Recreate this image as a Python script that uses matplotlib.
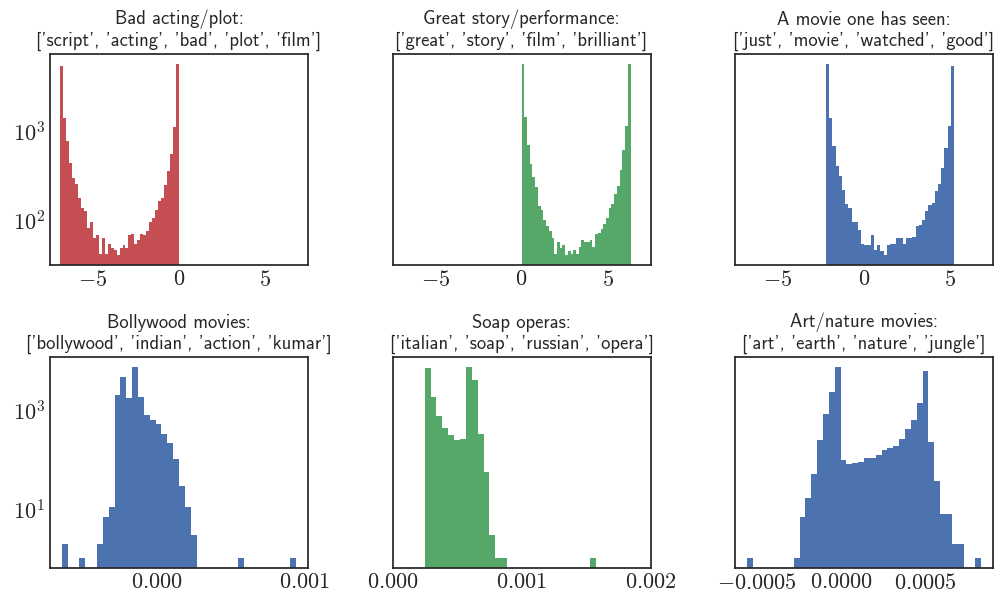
import numpy as np
import matplotlib
matplotlib.use("Agg")
import matplotlib.pyplot as plt

plt.rcParams['font.family'] = 'cmr10'
plt.rcParams['mathtext.fontset'] = 'cm'
plt.rcParams['axes.formatter.use_mathtext'] = True
plt.rcParams['axes.edgecolor'] = '.15'
plt.rcParams['axes.linewidth'] = 1.25
plt.rcParams['xtick.major.size'] = 0
plt.rcParams['ytick.major.size'] = 0
plt.rcParams['xtick.minor.size'] = 0
plt.rcParams['ytick.minor.size'] = 0

red = '#C44E52'
green = '#55A868'
blue = '#4C72B0'

titles = [
    "Bad acting/plot:\n['script', 'acting', 'bad', 'plot', 'film']",
    "Great story/performance:\n['great', 'story', 'film', 'brilliant']",
    "A movie one has seen:\n['just', 'movie', 'watched', 'good']",
    "Bollywood movies:\n['bollywood', 'indian', 'action', 'kumar']",
    "Soap operas:\n['italian', 'soap', 'russian', 'opera']",
    "Art/nature movies:\n['art', 'earth', 'nature', 'jungle']",
]
colors = [red, green, blue, blue, green, blue]

# bin ranges (first edge, last edge)
ranges = [
    (-6.92, 0.0),
    (0.0, 6.34),
    (-2.21, 5.23),
    (-0.000642, 0.000946),
    (0.000249, 0.001574),
    (-0.00056, 0.000833),
]

# counts per bin
bad_plot = [5380, 1400, 765, 435, 300, 252, 175, 135, 126, 82,
            94, 63, 67, 42, 63, 42, 54, 48, 46, 40,
            48, 52, 48, 67, 70, 54, 59, 70, 67, 76,
            96, 104, 131, 163, 175, 245, 353, 550, 1110, 5710]
great_story = [5710, 1440, 695, 424, 302, 233, 142, 131, 99, 85,
               76, 62, 41, 57, 49, 53, 40, 45, 42, 46,
               41, 50, 59, 56, 57, 59, 50, 70, 72, 80,
               91, 104, 138, 150, 194, 239, 362, 610, 1140, 5710]
movie_seen = [5710, 1400, 678, 403, 310, 215, 150, 138, 94, 96,
              78, 54, 52, 53, 67, 46, 53, 45, 40, 52,
              54, 54, 62, 62, 54, 63, 63, 65, 85, 87,
              101, 125, 146, 154, 210, 252, 382, 643, 1140, 5420]
bollywood = [2, 0, 0, 1, 0, 0, 2, 7, 11, 2100,
             4860, 1750, 7740, 1830, 792, 628, 522, 327, 215, 102,
             29, 11, 3, 0, 0, 0, 0, 0, 0, 0,
             1, 0, 0, 0, 0, 0, 0, 0, 0, 1]
soap = [7390, 1830, 757, 433, 312, 248, 260, 7740, 4230, 327,
        56, 3, 1, 1, 0, 0, 0, 0, 0, 0,
        0, 0, 0, 0, 0, 0, 0, 0, 1]
art_nature = [1, 0, 0, 0, 0, 0, 0, 0, 1, 7,
              17, 51, 248, 830, 2310, 7740, 98, 81, 85, 89,
              107, 107, 123, 156, 171, 187, 260, 413, 628, 1385,
              6430, 226, 37, 8, 8, 2, 2, 0, 0, 1]
counts = [bad_plot, great_story, movie_seen, bollywood, soap, art_nature]

xticks = [[-5, 0, 5], [-5, 0, 5], [-5, 0, 5],
          [0.0, 0.001], [0.0, 0.001, 0.002], [-0.0005, 0.0, 0.0005]]

fig, axes = plt.subplots(2, 3, sharey='row', figsize=(10.01, 5.97), dpi=100)
fig.subplots_adjust(left=0.05, right=0.992, top=0.9095, bottom=0.0486,
                    wspace=0.3275, hspace=0.436)

for i, ax in enumerate(axes.flat):
    lo, hi = ranges[i]
    c = np.array(counts[i], dtype=float)
    edges = np.linspace(lo, hi, len(c) + 1)
    centers = (edges[:-1] + edges[1:]) / 2
    ax.hist(centers, bins=edges, weights=c, log=True, color=colors[i], linewidth=0)
    ax.set_title(titles[i], fontfamily='cmss10', fontsize=13.4, color='.15')
    ax.set_xticks(xticks[i])
    ax.tick_params(labelsize=16, colors='.15')

for ax in axes[0]:
    ax.set_xlim(-7.5, 7.5)
axes[1, 1].set_xlim(0, 0.002)
axes[0, 0].set_yticks([100, 1000])
axes[1, 0].set_yticks([10, 1000])
for ax in axes.flat:
    ax.yaxis.set_minor_formatter(matplotlib.ticker.NullFormatter())

fig.savefig('out.png', dpi=100)
